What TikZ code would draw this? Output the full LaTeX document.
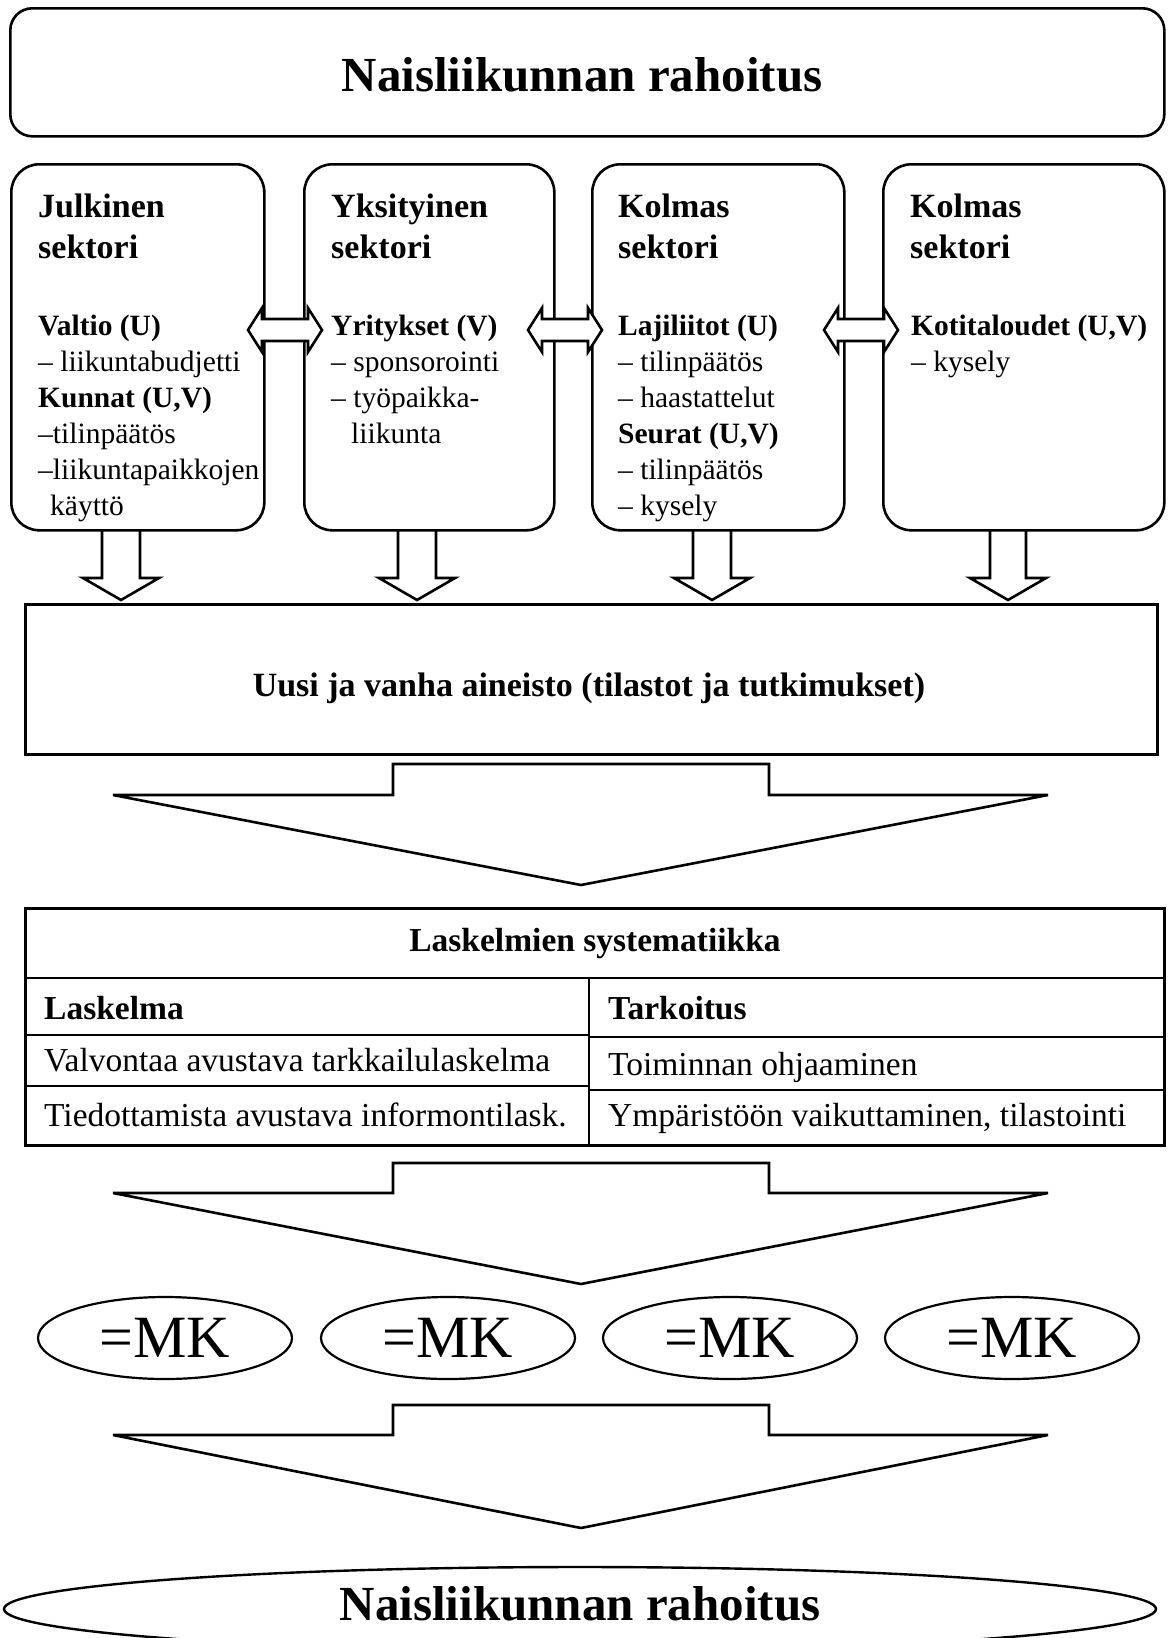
\documentclass[tikz,border=0pt]{standalone}
\usepackage{fontspec}
\setmainfont{Liberation Serif}
\usetikzlibrary{shapes.geometric}

% a block of lines whose baseline is that of its first line
\newcommand\linestack[2]{\vtop{\baselineskip=#1\lineskiplimit=-\maxdimen\lineskip=0pt #2}}

\tikzset{
  ln/.style={line width=2.6pt},
  roundbox/.style={draw, ln, rounded corners=28pt, inner sep=0pt},
  plainbox/.style={draw, ln, inner sep=0pt},
  blockarrow/.style={draw, ln, fill=white, line join=miter},
  mkoval/.style={draw, line width=2.2pt, ellipse, inner sep=0pt,
                 minimum width=254pt, minimum height=82pt,
                 font=\fontsize{60}{60}\selectfont},
  headtxt/.style={anchor=base west, inner sep=0pt,
                  font=\fontsize{34}{41}\selectfont\bfseries},
  itemtxt/.style={anchor=base west, inner sep=0pt,
                  font=\fontsize{29.5}{36}\selectfont},
  celltxt/.style={anchor=base west, inner sep=0pt,
                  font=\fontsize{33.5}{40}\selectfont},
}

\begin{document}
\begin{tikzpicture}[x=1pt, y=-1pt]
\useasboundingbox (0,0) rectangle (1169,1638);

% title box
\node[roundbox, rounded corners=22pt, minimum width=1154pt, minimum height=128pt,
      anchor=north west] (top) at (9,7) {};
\node[anchor=base, inner sep=0pt, font=\fontsize{49}{49}\selectfont\bfseries]
  (toptitle) at (582,91) {Naisliikunnan rahoitus};

% four sector boxes
\node[roundbox, minimum width=253pt, minimum height=366pt, anchor=north west] (s1) at (10,163) {};
\node[roundbox, minimum width=250pt, minimum height=366pt, anchor=north west] (s2) at (303,163) {};
\node[roundbox, minimum width=252pt, minimum height=366pt, anchor=north west] (s3) at (591,163) {};
\node[roundbox, minimum width=281pt, minimum height=366pt, anchor=north west] (s4) at (882,163) {};

\node[headtxt] (h1) at (38,217) {\linestack{41pt}{\hbox{Julkinen}\hbox{sektori}}};
\node[headtxt] (h2) at (331,217) {\linestack{41pt}{\hbox{Yksityinen}\hbox{sektori}}};
\node[headtxt] (h3) at (618,217) {\linestack{41pt}{\hbox{Kolmas}\hbox{sektori}}};
\node[headtxt] (h4) at (910,217) {\linestack{41pt}{\hbox{Kolmas}\hbox{sektori}}};

\node[itemtxt] (i1) at (38,335) {\linestack{36pt}{%
  \hbox{\bfseries Valtio (U)}\hbox{– liikuntabudjetti}\hbox{\bfseries Kunnat (U,V)}%
  \hbox{–tilinpäätös}\hbox{–liikuntapaikkojen}\hbox{\hspace*{12pt}käyttö}}};
\node[itemtxt] (i2) at (331,335) {\linestack{36pt}{%
  \hbox{\bfseries Yritykset (V)}\hbox{– sponsorointi}\hbox{– työpaikka-}%
  \hbox{\hspace*{20pt}liikunta}}};
\node[itemtxt] (i3) at (618,335) {\linestack{36pt}{%
  \hbox{\bfseries Lajiliitot (U)}\hbox{– tilinpäätös}\hbox{– haastattelut}%
  \hbox{\bfseries Seurat (U,V)}\hbox{– tilinpäätös}\hbox{– kysely}}};
\node[itemtxt] (i4) at (911,335) {\linestack{36pt}{%
  \hbox{\bfseries Kotitaloudet (U,V)}\hbox{– kysely}}};

% double arrows between the sector boxes
\foreach \cx in {285, 565, 861} {
  \draw[blockarrow, shift={(\cx,330)}]
    (-37,0) -- (-23,-22) -- (-23,-11) -- (23,-11) -- (23,-22) -- (37,0)
    -- (23,22) -- (23,11) -- (-23,11) -- (-23,22) -- cycle;
}

% data box
\node[plainbox, minimum width=1132pt, minimum height=150pt, anchor=north west] (data) at (24,603) {};
\node[inner sep=0pt, font=\fontsize{34}{40}\selectfont\bfseries] (datatxt) at (589,688)
  {Uusi ja vanha aineisto (tilastot ja tutkimukset)};

% arrows from the sector boxes down to the data box
\foreach \cx/\hw in {121/19, 417/19, 712/19, 1008/18} {
  \draw[ln, line join=miter] (\cx-\hw,529) -- (\cx-\hw,578) -- (\cx-38,578) -- (\cx,600)
    -- (\cx+38,578) -- (\cx+\hw,578) -- (\cx+\hw,529);
}

% wide arrows
\foreach \ty/\sy/\tip in {764/795/885, 1163/1193/1284, 1405/1435/1528} {
  \draw[blockarrow] (393,\ty) -- (769,\ty) -- (769,\sy) -- (1048,\sy) -- (581,\tip)
    -- (113,\sy) -- (393,\sy) -- cycle;
}

% table
\node[plainbox, minimum width=1139pt, minimum height=237pt, anchor=north west] (tab) at (24,907) {};
\draw[ln] (24,978) -- (1163,978);
\draw[ln] (24,1035) -- (589,1035);
\draw[ln] (589,1037) -- (1163,1037);
\draw[ln] (24,1086) -- (589,1086);
\draw[ln] (589,1090) -- (1163,1090);
\draw[ln] (589,978) -- (589,1144);

\node[anchor=base, inner sep=0pt, font=\fontsize{33.5}{40}\selectfont\bfseries] (tabtitle) at (595,951) {Laskelmien systematiikka};
\node[celltxt, font=\fontsize{33.5}{40}\selectfont\bfseries] (c11) at (44,1019) {Laskelma};
\node[celltxt, font=\fontsize{33.5}{40}\selectfont\bfseries] (c12) at (608,1019) {Tarkoitus};
\node[celltxt] (c21) at (44,1071) {Valvontaa avustava tarkkailulaskelma};
\node[celltxt] (c22) at (608,1075) {Toiminnan ohjaaminen};
\node[celltxt] (c31) at (44,1126) {Tiedottamista avustava informontilask.};
\node[celltxt] (c32) at (608,1126) {Ympäristöön vaikuttaminen, tilastointi};

% currency ovals
\node[mkoval] (mk1) at (165,1338) {=MK};
\node[mkoval] (mk2) at (448,1338) {=MK};
\node[mkoval] (mk3) at (730,1338) {=MK};
\node[mkoval] (mk4) at (1012,1338) {=MK};

% final oval
\node[draw, line width=2.4pt, ellipse, inner sep=0pt, minimum width=1152pt, minimum height=84pt]
  (final) at (580,1609) {};
\node[anchor=base, inner sep=0pt, font=\fontsize{49}{49}\selectfont\bfseries]
  (finaltxt) at (580,1620) {Naisliikunnan rahoitus};
\end{tikzpicture}
\end{document}
